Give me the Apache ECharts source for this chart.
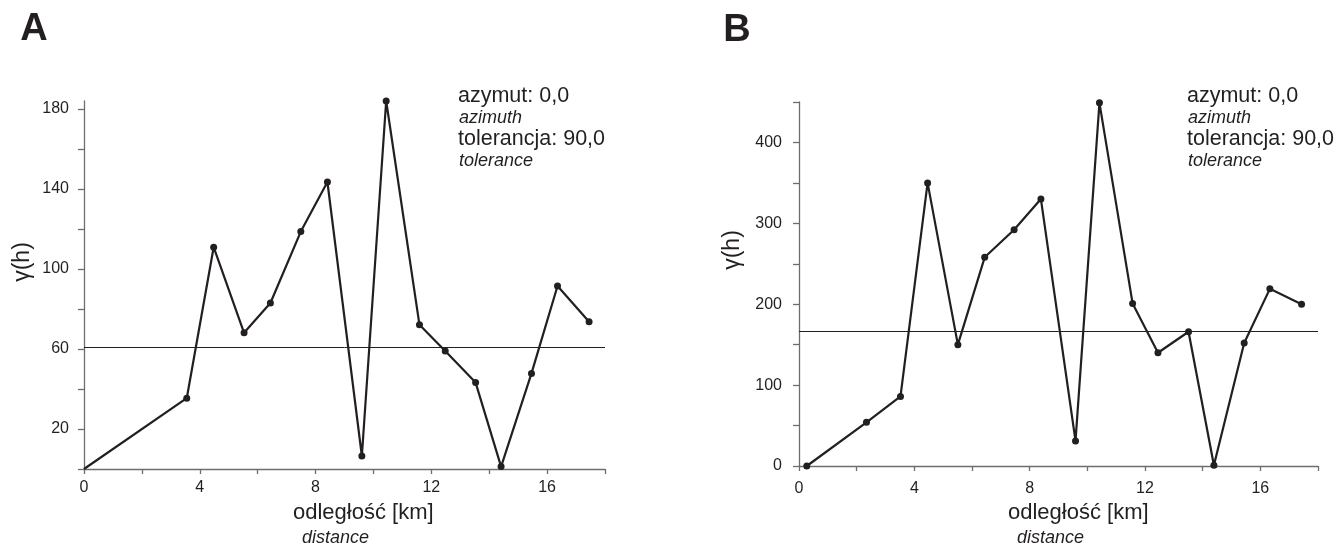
<!DOCTYPE html>
<html>
<head>
<meta charset="utf-8">
<script src="https://cdn.jsdelivr.net/npm/echarts@6/dist/echarts.min.js"></script>
<style>html,body{margin:0;padding:0;background:#fff;}#c{width:1337px;height:545px;}</style>
</head>
<body>
<div id="c"></div>
<script>
// Panel A
var distA = [0, 3.55, 4.48, 5.53, 6.44, 7.49, 8.41, 9.6, 10.44, 11.59, 12.48, 13.53, 14.41, 15.46, 16.36, 17.45];
var gammaA = [0, 35.4, 110.9, 68.1, 83.0, 118.7, 143.5, 6.5, 184, 72.1, 59.0, 43.2, 1.2, 47.8, 91.5, 73.6];
var sillA = 61;
var yTicksA = [0, 20, 40, 60, 80, 100, 120, 140, 160, 180];
var yLabelsA = [20, 60, 100, 140, 180];
// Panel B
var distB = [0.27, 2.34, 3.52, 4.46, 5.51, 6.44, 7.46, 8.39, 9.59, 10.42, 11.57, 12.45, 13.51, 14.39, 15.44, 16.33, 17.43];
var gammaB = [0, 54, 86, 350, 150, 258, 292, 330, 31, 449, 201, 140, 166, 1, 152, 219, 200];
var sillB = 166;
var xLabels = [0, 4, 8, 12, 16];
var panelTitles = ['A', 'B'];
var infoLines = ['azymut: 0,0', 'azimuth', 'tolerancja: 90,0', 'tolerance'];
var xName = 'odległość [km]';
var xNameEn = 'distance';
var yName = 'γ(h)';

var ink = '#231f20';
var axisCol = '#6d6e71';
var font = 'Liberation Sans, Arial, sans-serif';

function pairs(xs, ys, hideFirst) {
  return xs.map(function (x, i) {
    var it = { value: [x, ys[i]] };
    if (hideFirst && i === 0) it.symbol = 'none';
    return it;
  });
}

function xAxisCfg(idx, margin) {
  return {
    type: 'value', gridIndex: idx, min: 0, max: 18, interval: 2,
    axisLine: { show: true, onZero: false, lineStyle: { color: axisCol, width: 1.3 } },
    axisTick: { show: true, inside: false, length: 5, lineStyle: { color: axisCol, width: 1.3 } },
    axisLabel: {
      margin: margin, color: ink, fontSize: 16, fontFamily: font,
      formatter: function (v) { return xLabels.indexOf(v) >= 0 ? String(v) : ''; }
    },
    splitLine: { show: false }
  };
}

var chart = echarts.init(document.getElementById('c'), null, { renderer: 'canvas' });

var graphics = [];
function addText(x, y, text, size, opts) {
  opts = opts || {};
  graphics.push({
    type: 'text', x: x, y: y, rotation: opts.rotation || 0, silent: true,
    style: {
      text: text, fill: ink, fontSize: size, fontFamily: font,
      fontStyle: opts.italic ? 'italic' : 'normal', fontWeight: opts.bold ? 'bold' : 'normal',
      textAlign: opts.align || 'left', textVerticalAlign: 'middle'
    }
  });
}
addText(34, 30, panelTitles[0], 38, { bold: true, align: 'center' });
addText(737, 31, panelTitles[1], 38, { bold: true, align: 'center' });
[458, 1187].forEach(function (x) {
  addText(x, 96, infoLines[0], 21.5);
  addText(x + 1, 118, infoLines[1], 18, { italic: true });
  addText(x, 139, infoLines[2], 21.5);
  addText(x + 1, 161, infoLines[3], 18, { italic: true });
});
addText(293, 513, xName, 22);
addText(302, 538, xNameEn, 18, { italic: true });
addText(1008, 513, xName, 22);
addText(1017, 538, xNameEn, 18, { italic: true });
addText(23, 262, yName, 23, { rotation: Math.PI / 2, align: 'center' });
addText(733, 250, yName, 23, { rotation: Math.PI / 2, align: 'center' });

function seriesCfg(idx, xs, ys, sill, hideFirst) {
  return {
    type: 'line', xAxisIndex: idx, yAxisIndex: idx,
    data: pairs(xs, ys, hideFirst),
    symbol: 'circle', symbolSize: 7, showAllSymbol: true,
    clip: false, animation: false,
    lineStyle: { color: ink, width: 2.2 },
    itemStyle: { color: ink },
    markLine: {
      silent: true, symbol: 'none', animation: false,
      label: { show: false },
      lineStyle: { color: ink, width: 1, type: 'solid' },
      data: [{ yAxis: sill }]
    }
  };
}

chart.setOption({
  backgroundColor: '#ffffff',
  animation: false,
  grid: [
    { left: 84, right: 732, top: 101, bottom: 76 },
    { left: 799, right: 19, top: 102, bottom: 79 }
  ],
  xAxis: [xAxisCfg(0, 11), xAxisCfg(1, 15)],
  yAxis: [
    {
      type: 'value', gridIndex: 0, min: 0, max: 184, interval: 20,
      axisLine: { show: true, onZero: false, lineStyle: { color: axisCol, width: 1.3 } },
      axisTick: { show: true, length: 6, customValues: yTicksA, lineStyle: { color: axisCol, width: 1.3 } },
      axisLabel: {
        margin: 15, color: ink, fontSize: 16, fontFamily: font, customValues: yLabelsA,
        formatter: function (v) { return yLabelsA.indexOf(v) >= 0 ? String(v) : ''; }
      },
      splitLine: { show: false }
    },
    {
      type: 'value', gridIndex: 1, min: 0, max: 450, interval: 50,
      axisLine: { show: true, onZero: false, lineStyle: { color: axisCol, width: 1.3 } },
      axisTick: { show: true, length: 6, lineStyle: { color: axisCol, width: 1.3 } },
      axisLabel: {
        margin: 17, color: ink, fontSize: 16, fontFamily: font,
        formatter: function (v) { return v % 100 === 0 ? String(v) : ''; }
      },
      splitLine: { show: false }
    }
  ],
  series: [
    seriesCfg(0, distA, gammaA, sillA, true),
    seriesCfg(1, distB, gammaB, sillB, false)
  ],
  graphic: graphics
});
</script>
</body>
</html>
